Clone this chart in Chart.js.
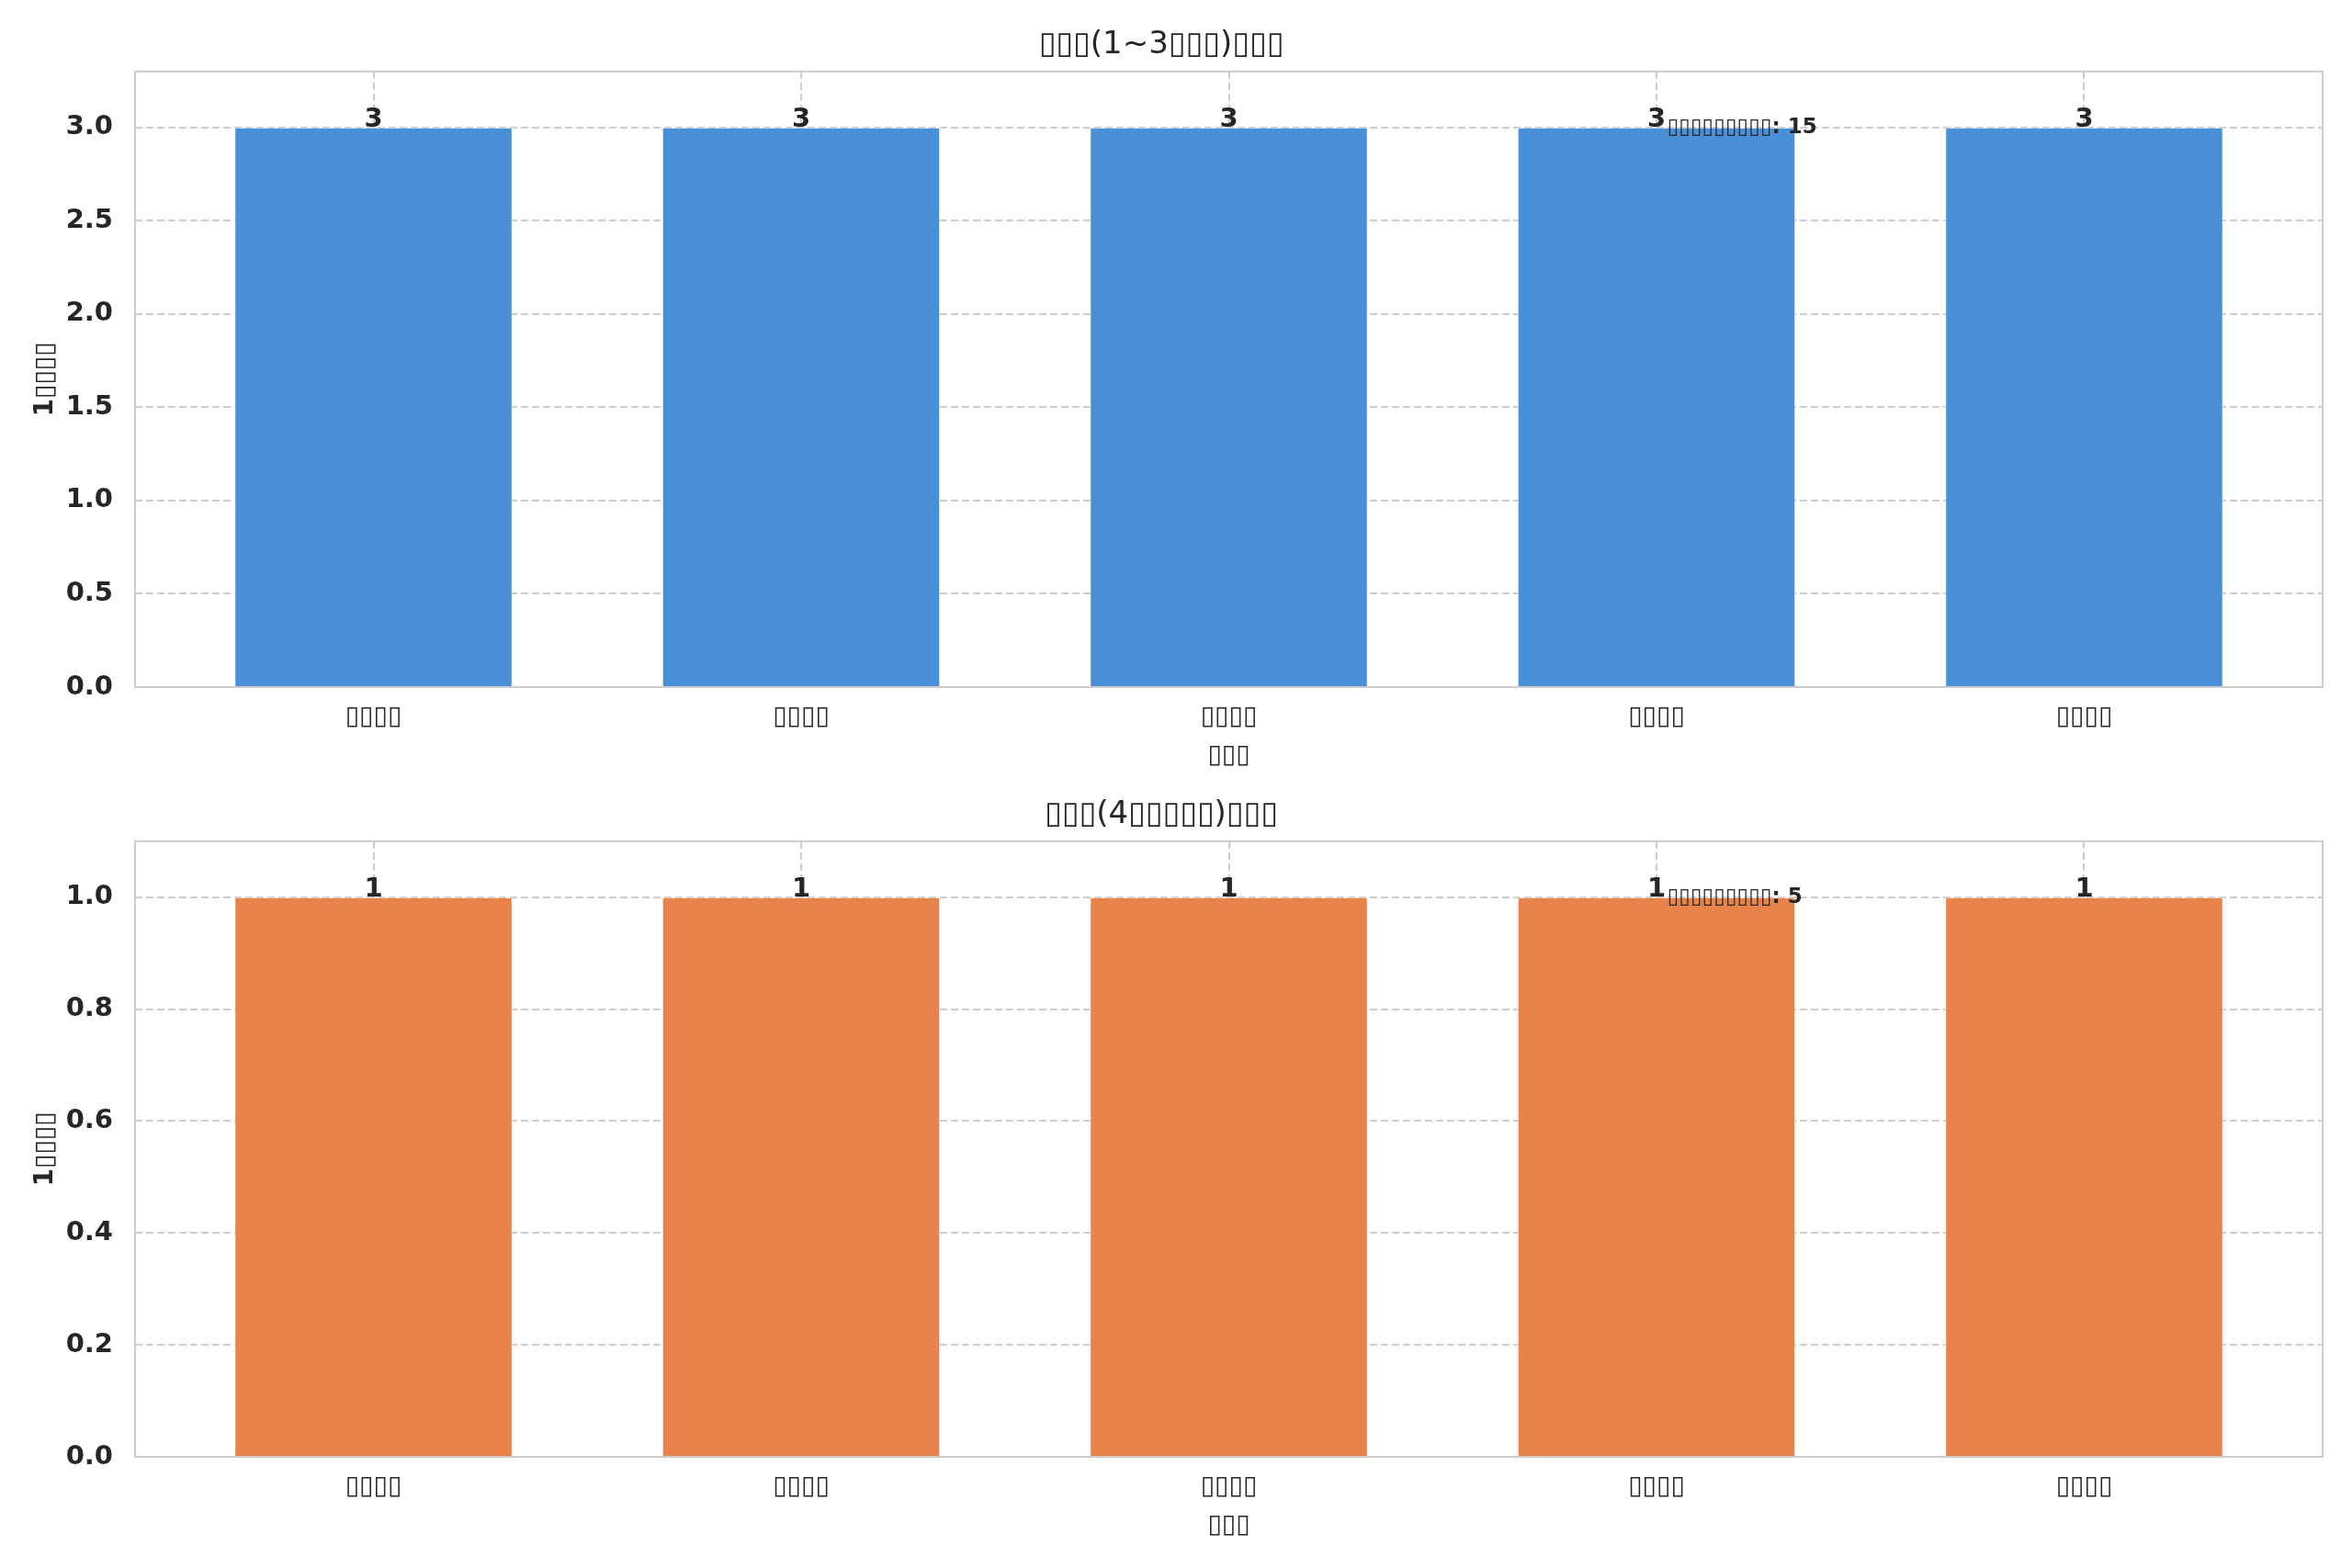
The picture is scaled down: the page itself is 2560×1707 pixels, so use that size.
<!DOCTYPE html>
<html>
<head>
<meta charset="utf-8">
<script src="https://cdn.jsdelivr.net/npm/chart.js@4.4.1/dist/chart.umd.min.js"></script>
<style>
  html, body { margin: 0; padding: 0; background: #ffffff; }
  body { width: 2560px; height: 1707px; position: relative; overflow: hidden; }
  canvas { position: absolute; left: 0; }
  #chartTop { top: 0; }
  #chartBottom { top: 838px; }
</style>
</head>
<body>
<canvas id="chartTop" width="2560" height="853"></canvas>
<canvas id="chartBottom" width="2560" height="853"></canvas>
<script>
// the text in the picture only shows missing-glyph boxes, kept as boxes
const categories = ['▯▯▯▯', '▯▯▯▯', '▯▯▯▯', '▯▯▯▯', '▯▯▯▯'];
const countsSmall = [3, 3, 3, 3, 3];   // 1~3
const countsLarge = [1, 1, 1, 1, 1];   // 4+
const ticksSmall = [0, 0.5, 1.0, 1.5, 2.0, 2.5, 3.0];
const ticksLarge = [0, 0.2, 0.4, 0.6, 0.8, 1.0];
const titleSmall = '▯▯▯(1~3▯▯▯)▯▯▯';
const titleLarge = '▯▯▯(4▯▯▯▯▯)▯▯▯';
const xTitle = '▯▯▯';
const yTitle = '1▯▯▯▯';
const totalLabel = '▯▯▯▯▯▯▯▯▯';

const FONT = 'DejaVu Sans';
const INK = '#262626';
Chart.defaults.font.family = FONT;
Chart.defaults.color = INK;

// frame, bar values and the total note
const extras = {
  id: 'extras',
  afterDatasetsDraw(chart) {
    const {ctx, chartArea: a, scales: {x, y}} = chart;
    const vals = chart.data.datasets[0].data;
    ctx.save();
    ctx.strokeStyle = '#cccccc';
    ctx.lineWidth = 2;
    ctx.strokeRect(a.left, a.top, a.right - a.left, a.bottom - a.top);

    ctx.fillStyle = INK;
    ctx.font = 'bold 29px ' + FONT;
    ctx.textAlign = 'center';
    ctx.textBaseline = 'alphabetic';
    vals.forEach(p => {
      ctx.fillText(String(p.y), x.getPixelForValue(p.x), y.getPixelForValue(p.y) - 1);
    });

    const total = vals.reduce((s, p) => s + p.y, 0);
    const top = Math.max(...vals.map(p => p.y));
    ctx.font = 'bold 23px ' + FONT;
    ctx.textAlign = 'left';
    ctx.textBaseline = 'middle';
    ctx.fillText(totalLabel + ': ' + total,
      x.getPixelForValue(vals.length - 2 + 0.025), y.getPixelForValue(top));
    ctx.restore();
  }
};

function makeChart(id, values, color, title, yMax, yTicks) {
  return new Chart(document.getElementById(id), {
    type: 'bar',
    data: {
      datasets: [{
        data: values.map((v, i) => ({x: i, y: v})),
        backgroundColor: color,
        borderColor: 'rgba(255,255,255,0.6)',
        borderWidth: 1,
        barPercentage: 0.65,
        categoryPercentage: 1.0
      }]
    },
    options: {
      responsive: false,
      devicePixelRatio: 1,
      animation: false,
      layout: {padding: {left: 0, right: 32, top: 0, bottom: 0}},
      plugins: {
        legend: {display: false},
        tooltip: {enabled: false},
        title: {
          display: true,
          text: title,
          color: INK,
          font: {size: 34, weight: 'normal'},
          padding: {top: 29, bottom: 8}
        }
      },
      scales: {
        x: {
          type: 'linear',
          offset: false,
          min: -0.5575,
          max: categories.length - 1 + 0.5575,
          afterBuildTicks: axis => { axis.ticks = categories.map((c, i) => ({value: i})); },
          afterFit: axis => { axis.height = 105; },
          ticks: {
            callback: v => categories[Math.round(v)],
            font: {size: 28},
            color: INK,
            padding: 16,
            maxRotation: 0,
            autoSkip: false
          },
          grid: {color: '#cccccc', lineWidth: 2, drawTicks: false, offset: false},
          border: {display: false, dash: [8, 4]},
          title: {
            display: true,
            text: xTitle,
            color: INK,
            font: {size: 28},
            padding: {top: 0, bottom: 13}
          }
        },
        y: {
          min: 0,
          max: yMax,
          afterBuildTicks: axis => { axis.ticks = yTicks.map(v => ({value: v})); },
          afterFit: axis => { axis.width = 147; },
          ticks: {
            callback: v => v.toFixed(1),
            font: {size: 29, weight: 'bold'},
            color: INK,
            padding: 24
          },
          grid: {color: '#cccccc', lineWidth: 2, drawTicks: false},
          border: {display: false, dash: [8, 4]},
          title: {
            display: true,
            text: yTitle,
            color: INK,
            font: {size: 28, weight: 'bold'},
            padding: {top: 33, bottom: 0}
          }
        }
      }
    },
    plugins: [extras]
  });
}

makeChart('chartTop', countsSmall, '#4a90d9', titleSmall, 3.3, ticksSmall);
makeChart('chartBottom', countsLarge, '#e8844a', titleLarge, 1.1, ticksLarge);
</script>
</body>
</html>
